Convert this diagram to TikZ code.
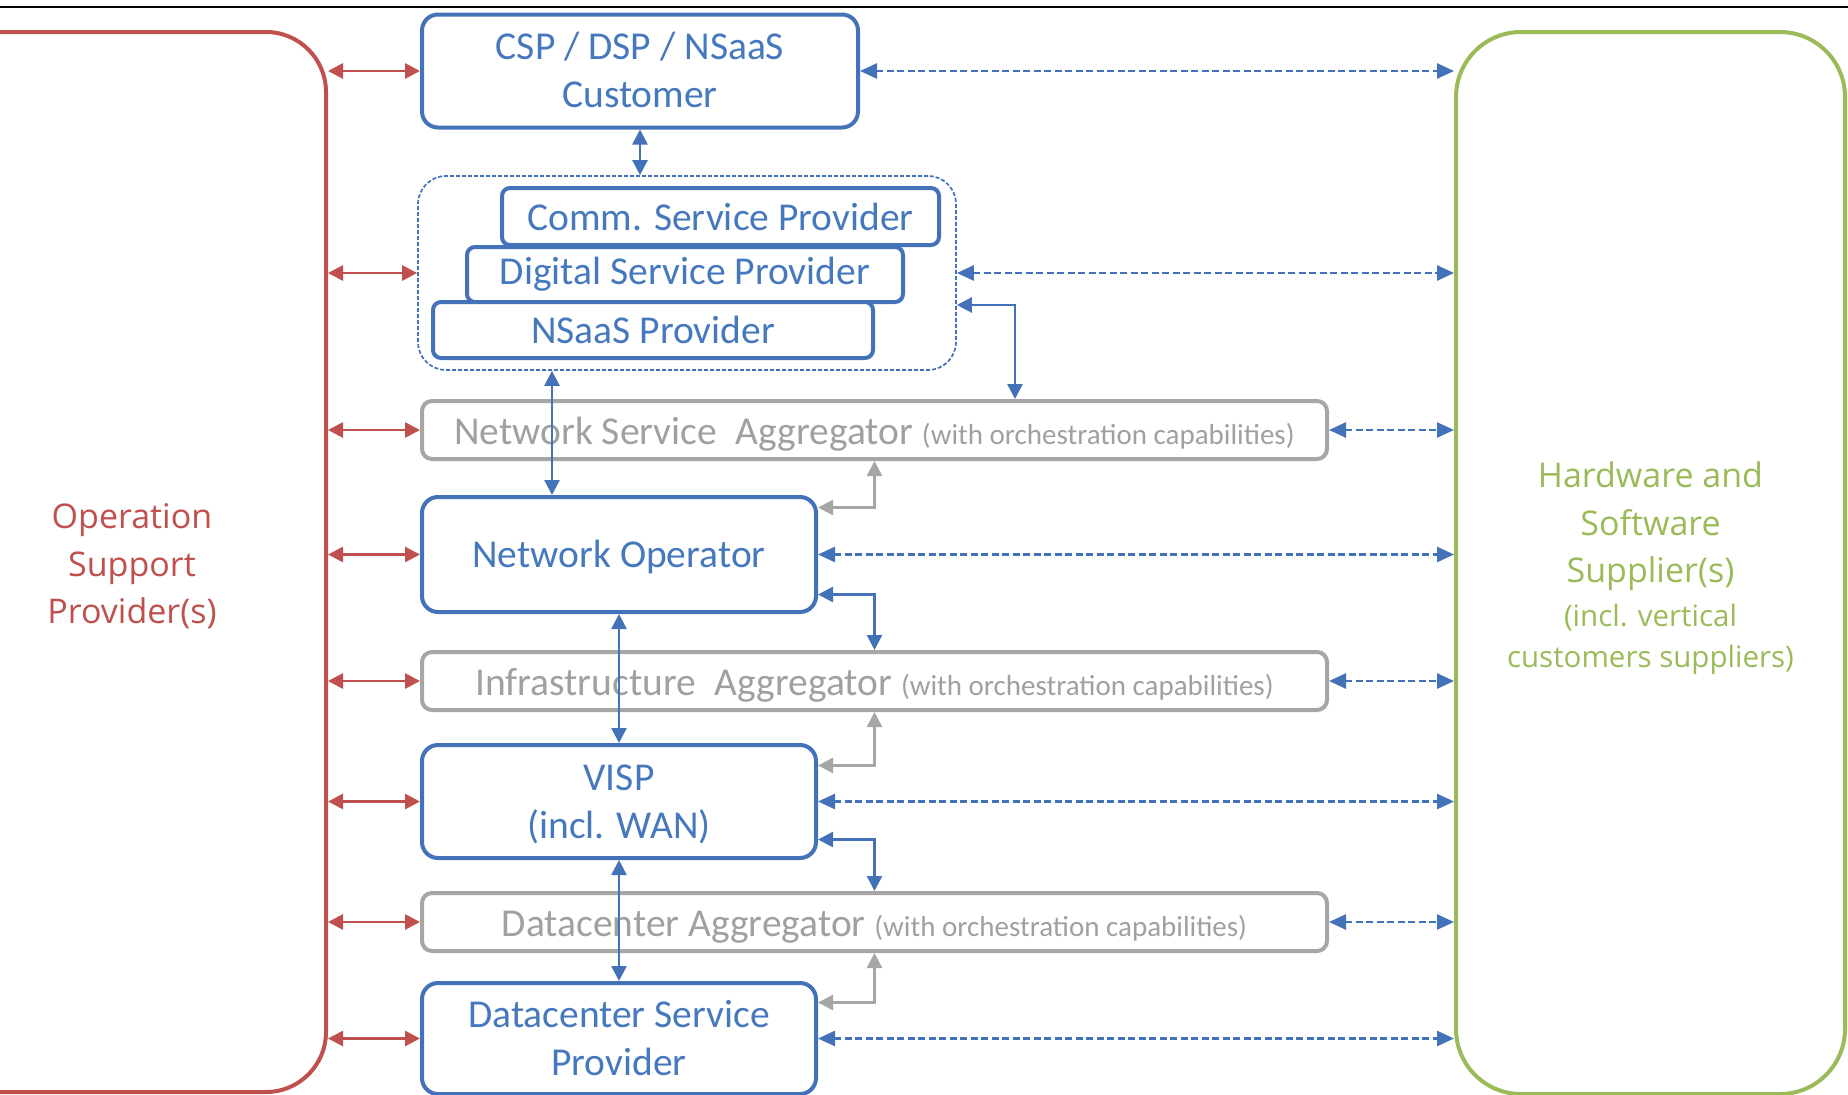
\documentclass[tikz,border=0pt]{standalone}
\usepackage{fontspec}
\setmainfont{Carlito}
\newfontfamily\osfont{Open Sans}
\usetikzlibrary{arrows.meta}
\definecolor{cblue}{RGB}{68,114,185}
\definecolor{cbluetext}{RGB}{70,120,190}
\definecolor{cred}{RGB}{192,80,77}
\definecolor{cgreen}{RGB}{155,187,89}
\definecolor{cgray}{RGB}{166,166,166}
\definecolor{cgraytext}{RGB}{160,160,160}
\newcommand{\smallpart}{\fontsize{29}{35}\selectfont}
\newcommand{\ls}{\rule[-9pt]{0pt}{43pt}}
\begin{document}
\begin{tikzpicture}[x=1pt,y=-1pt,
  bluebox/.style={draw=cblue,line width=4pt,rounded corners=16pt,fill=white,text=cbluetext,inner sep=0pt,align=center,font=\fontsize{39.5}{48}\selectfont},
  smallbox/.style={bluebox,rounded corners=8pt},
  graybox/.style={draw=cgray,line width=4pt,rounded corners=10pt,fill=white,text=cgraytext,inner sep=0pt,minimum width=905pt,minimum height=58pt,text height=36pt,text depth=8pt,font=\fontsize{39.5}{46}\selectfont},
  redarrow/.style={draw=cred,line width=2.8pt,{Triangle[length=15pt,width=15pt]}-{Triangle[length=15pt,width=15pt]}},
  bluearrow/.style={draw=cblue,line width=2.5pt,{Triangle[length=15pt,width=15pt]}-{Triangle[length=15pt,width=15pt]}},
  bluedash/.style={draw=cblue,line width=2.6pt,dash pattern=on 7pt off 3.5pt,{Triangle[length=17pt,width=15pt]}-{Triangle[length=17pt,width=15pt]}},
  grayarrow/.style={draw=cgray,line width=2.5pt,{Triangle[length=15pt,width=15pt]}-{Triangle[length=15pt,width=15pt]}}
]
\useasboundingbox (0,0) rectangle (1848,1095);
\clip (0,0) rectangle (1848,1095);
\fill[white] (0,0) rectangle (1848,1095);
\draw[line width=2pt] (0,7) -- (1848,7);

% side boxes
\node[draw=cred,line width=4pt,rounded corners=60pt,minimum width=426pt,minimum height=1060pt,inner sep=0pt] (osp) at (113,562) {};
\node[text=cred,font=\osfont\fontsize{34}{47.5}\selectfont,align=center] (osptext) at (132,566.5) {Operation\\Support\\Provider(s)};
\node[draw=cgreen,line width=4pt,rounded corners=65pt,minimum width=389pt,minimum height=1062pt,inner sep=0pt] (hw) at (1650.5,563) {};
\node[text=cgreen,align=center,font=\osfont\fontsize{34}{47.5}\selectfont] (hwtext) at (1650.5,568.5)
  {Hardware and\\Software\\Supplier(s)\\[-4pt]{\fontsize{29.5}{41}\selectfont (incl. vertical}\\[-6pt]{\fontsize{29.5}{41}\selectfont customers suppliers)}};

% centre column
\node[bluebox,minimum width=436pt,minimum height=113pt] (csp) at (640,71) {\ls CSP / DSP / NSaaS\\\ls Customer};
\node[draw=cblue,line width=1.7pt,dash pattern=on 4pt off 2pt,rounded corners=28pt,minimum width=538pt,minimum height=194pt,inner sep=0pt] (grp) at (687,273) {};
\node[smallbox,minimum width=437pt,minimum height=57pt] (comm) at (720.5,216.5) {Comm. Service Provider};
\node[smallbox,minimum width=436pt,minimum height=55pt] (dig) at (685,274.5) {Digital Service Provider};
\node[smallbox,minimum width=440pt,minimum height=56pt] (nsaas) at (653,330) {NSaaS Provider};

\node[graybox] (nsa) at (874.5,430) {Network Service\hspace{0.25em} Aggregator {\smallpart(with orchestration capabilities)}};
\node[bluebox,minimum width=394pt,minimum height=115pt] (no) at (619,554.5) {\ls Network Operator};
\node[graybox] (ia) at (874.5,681) {Infrastructure\hspace{0.25em} Aggregator {\smallpart(with orchestration capabilities)}};
\node[bluebox,minimum width=394pt,minimum height=113pt] (visp) at (619,801.5) {\ls VISP\\\ls (incl. WAN)};
\node[graybox] (da) at (874.5,922) {Datacenter Aggregator {\smallpart(with orchestration capabilities)}};
\node[bluebox,minimum width=394pt,minimum height=111pt] (dsp) at (619,1038.5) {\ls Datacenter Service\\\ls Provider};

% red links to OSP
\foreach \n in {csp,grp,nsa,no,ia,visp,da,dsp}
  \draw[redarrow] (\n.west -| osp.east) -- (\n.west);

% dashed links to suppliers
\foreach \n in {csp,grp,nsa,no,ia,visp,da,dsp}
  \draw[bluedash] (\n.east) -- (\n.east -| hw.west);

% vertical blue links
\draw[bluearrow] (csp.south) -- (csp.south |- grp.north);
\draw[bluearrow] ([xshift=-67pt]no.north |- grp.south) -- ([xshift=-67pt]no.north);
\draw[bluearrow] (no.south) -- (visp.north);
\draw[bluearrow] (visp.south) -- (dsp.north);

% elbow links
\draw[bluearrow] ([yshift=-32pt]grp.east) -| ([xshift=140.5pt]nsa.north);
\draw[bluearrow] ([yshift=-40pt]no.east) -| (ia.north);
\draw[bluearrow] ([yshift=-38pt]visp.east) -| (da.north);
\draw[grayarrow] ([yshift=47pt]no.east) -| (nsa.south);
\draw[grayarrow] ([yshift=36pt]visp.east) -| (ia.south);
\draw[grayarrow] ([yshift=36pt]dsp.east) -| (da.south);
\end{tikzpicture}
\end{document}
